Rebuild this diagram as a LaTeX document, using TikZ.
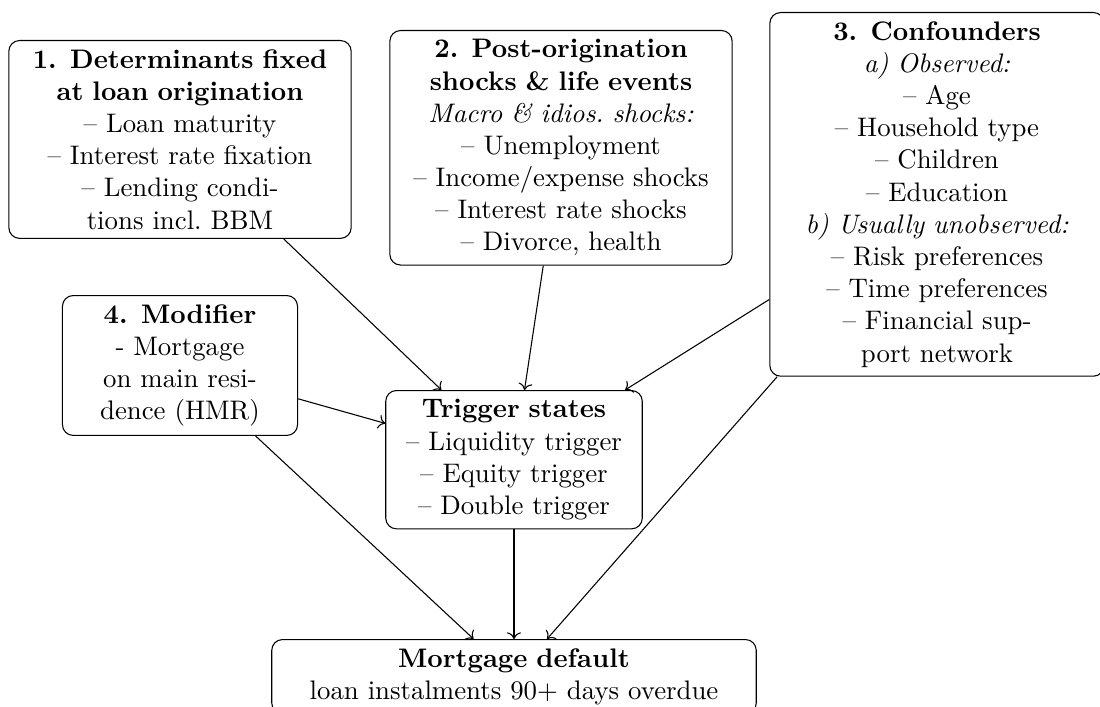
\documentclass[tikz,border=0pt]{standalone}
\usepackage{amsmath,amssymb}
\usepackage{tikz}
\usetikzlibrary{arrows.meta}
\usetikzlibrary{positioning}
\tikzset{
    cause/.style = {->},
}
\newcommand\widebox{121pt}
\newcommand\confbox{118pt}
\newcommand\modbox{81pt}
\newcommand\trigbox{89pt}
\newcommand\defaultbox{174pt}
\tikzset{
    stage/.style={draw, rounded corners, align=center, anchor=north},
}
\begin{document}
\begin{tikzpicture}[x=0.0131cm, y=-0.0131cm]
    \useasboundingbox (0,0) rectangle (1100,706);
    \node(det)[stage, text width=\widebox] at (180,40)
        {\textbf{1. Determinants fixed}\\ \textbf{at loan origination}\\
         -- Loan maturity\\ -- Interest rate fixation\\
         -- Lending condi-\\ tions incl.\ BBM};
    \node(shock)[stage, text width=\widebox] at (561,30)
        {\textbf{2. Post-origination}\\ \textbf{shocks \& life events}\\
         \textit{Macro \& idios.\ shocks:}\\ -- Unemployment\\
         -- Income/expense shocks\\ -- Interest rate shocks\\
         -- Divorce, health};
    \node(conf)[stage, text width=\confbox] at (937,12)
        {\textbf{3. Confounders}\\ \textit{a) Observed:}\\
         -- Age\\ -- Household type\\ -- Children\\ -- Education\\
         \textit{b) Usually unobserved:}\\ -- Risk preferences\\
         -- Time preferences\\ -- Financial sup-\\ port network};
    \node(mod)[stage, text width=\modbox] at (180,295)
        {\textbf{4. Modifier}\\ - Mortgage\\ on main resi-\\ dence (HMR)};
    \node(trig)[stage, text width=\trigbox] at (514,390)
        {\textbf{Trigger states}\\ -- Liquidity trigger\\
         -- Equity trigger\\ -- Double trigger};
    \node(dflt)[stage, text width=\defaultbox] at (514,639)
        {\textbf{Mortgage default}\\ loan instalments 90+ days overdue};

    \draw[cause] (det) -- (trig);
    \draw[cause] (shock) -- (trig);
    \draw[cause] (conf) -- (trig);
    \draw[cause] (mod) -- (trig);
    \draw[cause] (mod) -- (dflt);
    \draw[cause] (trig) -- (dflt);
    \draw[cause] (conf) -- (dflt);
\end{tikzpicture}
\end{document}
